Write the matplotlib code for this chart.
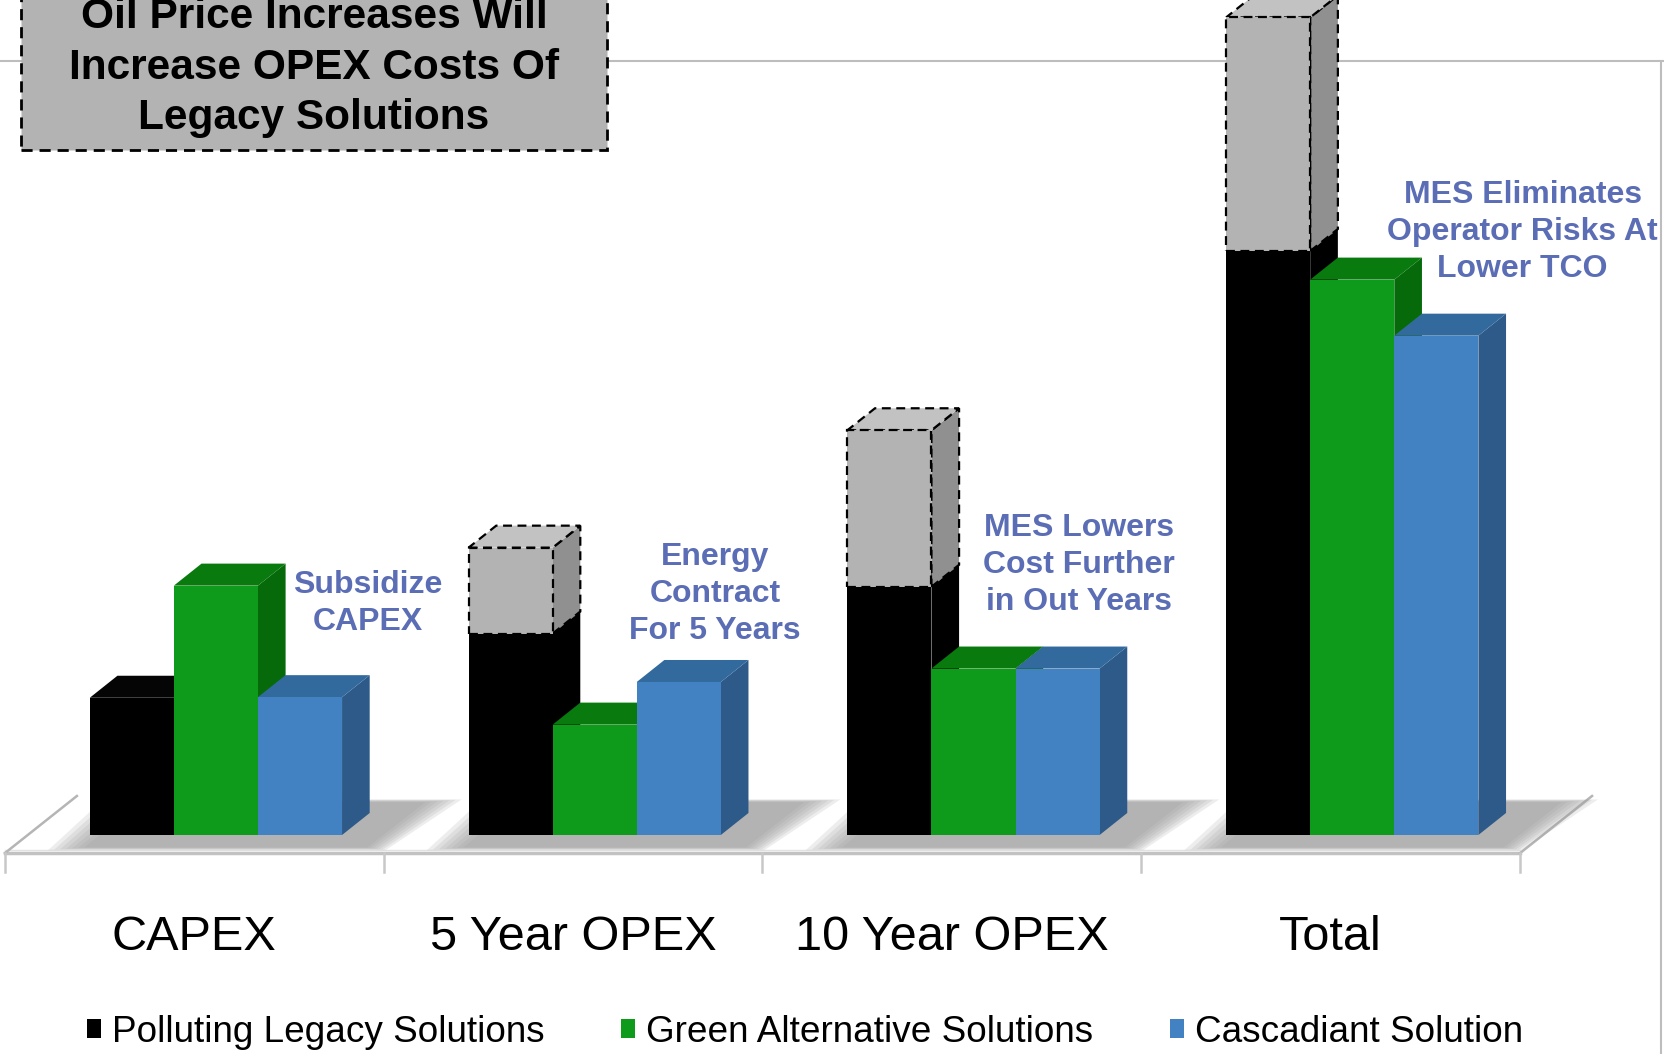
import matplotlib
matplotlib.use('Agg')
import matplotlib.pyplot as plt
from matplotlib.patches import Polygon, Rectangle, Patch
from matplotlib import font_manager

categories = ['CAPEX', '5 Year OPEX', '10 Year OPEX', 'Total']
series = ['Polluting Legacy Solutions', 'Green Alternative Solutions', 'Cascadiant Solution']
legacy = [2.35, 3.45, 4.25, 10.0]
oil_increase = [0.0, 1.47, 2.68, 4.0]      # dashed grey extra on top of legacy
green_alt = [4.27, 1.89, 2.85, 9.51]
cascadiant = [2.36, 2.62, 2.85, 8.55]
notes = ['Subsidize\nCAPEX', 'Energy\nContract\nFor 5 Years',
         'MES Lowers\nCost Further\nin Out Years', 'MES Eliminates\nOperator Risks At\nLower TCO']
note_xy = [(0.401, 3.97), (1.318, 4.13), (2.279, 4.62), (3.45, 10.33)]
box_text = 'Oil Price Increases Will\nIncrease OPEX Costs Of\nLegacy Solutions'

# face colours: front, top, side
faces = {
    'black': ('#000000', '#050505', '#000000'),
    'green': ('#0E9A1A', '#087A0E', '#066A0B'),
    'blue': ('#4382C2', '#336A9E', '#2D5A88'),
    'grey': ('#B3B3B3', '#C2C2C2', '#909090'),
}
note_color = '#5A6DB5'

try:
    font_manager.findfont('Liberation Sans Narrow', fallback_to_default=False)
    narrow = True
except ValueError:
    narrow = False
NARROW = ['Liberation Sans Narrow', 'Liberation Sans'] if narrow else ['Liberation Sans']

W = 0.222       # bar width (category units)
DX = 0.073      # depth offset x
DY = 0.377      # depth offset y

fig = plt.figure(figsize=(16.64, 10.54), dpi=100)
ax = fig.add_axes([0, 0, 1, 1])
ax.set_xlim(-0.570, 3.823)
ax.set_ylim(-3.75, 14.298)
ax.axis('off')


def bar3d(x0, y0, h, colors, z, dashed=False):
    fc, tc, sc = colors
    front = [(x0, y0), (x0 + W, y0), (x0 + W, y0 + h), (x0, y0 + h)]
    top = [(x0, y0 + h), (x0 + W, y0 + h), (x0 + W + DX, y0 + h + DY), (x0 + DX, y0 + h + DY)]
    side = [(x0 + W, y0), (x0 + W + DX, y0 + DY), (x0 + W + DX, y0 + h + DY), (x0 + W, y0 + h)]
    kw = dict(edgecolor='black', linestyle=(0, (4, 2.5)), linewidth=1.6) if dashed else dict(edgecolor='none')
    for pts, c in ((side, sc), (top, tc), (front, fc)):
        ax.add_patch(Polygon(pts, closed=True, facecolor=c, zorder=z, **kw))


# frame lines of the slide
ax.plot([-0.57, 3.823], [13.245, 13.245], color='#BDBDBD', lw=1.5, zorder=1)
ax.plot([3.816, 3.816], [-3.75, 13.245], color='#BDBDBD', lw=1.5, zorder=1)

# floor
fl, fr, fy, by = -0.557, 3.443, -0.31, 0.668
ax.plot([fl, fr], [fy, fy], color='#C2C2C2', lw=2.5, zorder=2)
ax.plot([fl, fr], [fy + 0.06, fy + 0.06], color='#E2E2E2', lw=1.0, zorder=2)
ax.plot([fl, fl + 0.19], [fy, by], color='#B5B5B5', lw=1.8, zorder=2)
ax.plot([fr, fr + 0.19], [fy, by], color='#B5B5B5', lw=1.8, zorder=2)
for i in range(len(categories) + 1):
    ax.plot([fl + i, fl + i], [fy, fy - 0.32], color='#C8C8C8', lw=1.8, zorder=2)

# soft shadows under each group
for i in range(len(categories)):
    L = i - 1.5 * W
    R = i + 1.5 * W
    for k in range(7):
        e = 0.11 - k * 0.016
        ey = 0.06 - k * 0.008
        pts = [(L - e, -0.2 - ey), (R + 0.06 + e * 0.5, -0.2 - ey),
               (R + 0.206 + e, 0.55 + ey), (L + 0.146 - e, 0.55 + ey)]
        ax.add_patch(Polygon(pts, closed=True, facecolor='#999999', edgecolor='none',
                             alpha=0.17, zorder=3))

# bars
z = 10
for i in range(len(categories)):
    x0 = i - 1.5 * W
    bar3d(x0, 0, legacy[i], faces['black'], z)
    z += 1
    if oil_increase[i] > 0:
        bar3d(x0, legacy[i], oil_increase[i], faces['grey'], z, dashed=True)
        z += 1
    bar3d(x0 + W, 0, green_alt[i], faces['green'], z)
    z += 1
    bar3d(x0 + 2 * W, 0, cascadiant[i], faces['blue'], z)
    z += 1

# category labels centred on the floor segments
for i, name in enumerate(categories):
    ax.text(fl + i + 0.5, -1.75, name, ha='center', va='center',
            fontsize=35, family='Liberation Sans', zorder=30)

# blue annotations
for (tx, ty), s in zip(note_xy, notes):
    ax.text(tx, ty, s, ha='center', va='center', color=note_color, fontsize=23,
            fontweight='bold', family='Liberation Sans', linespacing=1.3, zorder=30)

# grey dashed callout box, top cut off by the slide edge
ax.add_patch(Rectangle((-0.5145, 11.73), 1.547, 4.0, facecolor='#B3B3B3', edgecolor='black',
                       linestyle=(0, (4, 2.5)), linewidth=2, zorder=40))
ax.text(0.259, 13.14, box_text, ha='center', va='center', fontsize=37 if narrow else 30.5,
        fontweight='bold', family=NARROW, linespacing=1.34, zorder=41)

# legend
handles = [Patch(facecolor=faces[k][0], edgecolor='none') for k in ('black', 'green', 'blue')]
leg_size = 32 if narrow else 26.6
ax.legend(handles, series, loc='lower left', bbox_to_anchor=(87 / 1664, 0.004),
          bbox_transform=fig.transFigure, ncol=3, frameon=False, borderpad=0,
          borderaxespad=0, handlelength=0.38, handleheight=0.38, handletextpad=0.3,
          columnspacing=2.07, prop=dict(family=NARROW, size=leg_size))

fig.savefig('out.png', dpi=100)
